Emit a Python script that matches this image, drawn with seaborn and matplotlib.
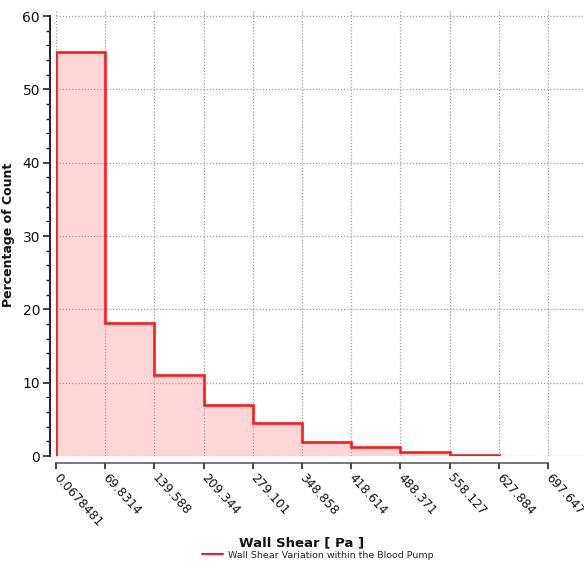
import numpy as np
import pandas as pd
import matplotlib
matplotlib.use("Agg")
import matplotlib.pyplot as plt
from matplotlib.lines import Line2D
from matplotlib.ticker import MultipleLocator
import seaborn as sns

# Histogram bin edges (Pa) and percentage of count in each bin
edges = [0.0678481, 69.8314, 139.588, 209.344, 279.101, 348.858,
         418.614, 488.371, 558.127, 627.884, 697.647]
edge_labels = ["0.0678481", "69.8314", "139.588", "209.344", "279.101",
               "348.858", "418.614", "488.371", "558.127", "627.884", "697.647"]
pct = [55.1, 18.1, 11.1, 6.9, 4.5, 1.96, 1.19, 0.5, 0.18]

series_name = "Wall Shear Variation within the Blood Pump"
x_title = "Wall Shear [ Pa ]"
y_title = "Percentage of Count"

sns.set_theme(style="white")
plt.rcParams["font.family"] = ["DejaVu Sans"]

W, H = 584, 562
fig = plt.figure(figsize=(W / 100, H / 100), dpi=100)
ax = fig.add_axes([56 / W, 1 - 456 / H, (584 - 56) / W, (456 - 10) / H])

bin_edges = list(edges[:len(pct) + 1])
be = np.array(bin_edges)
df = pd.DataFrame({
    "shear": (be[:-1] + be[1:]) / 2,
    "pct": pct,
})

sns.histplot(data=df, x="shear", weights="pct", bins=bin_edges, element="step",
             fill=True, color="#ffd6d6", alpha=1, linewidth=0, ax=ax, zorder=1)
ax.stairs(pct, be, baseline=0, fill=False, color="#ff1a1a",
          linewidth=1.9, zorder=3)

# axis ranges: the plotting area runs past the last tick on the right
px_per_bin = (548 - 56) / 10
step = (edges[-1] - edges[0]) / 10
ax.set_xlim(edges[0], edges[0] + (584 - 56) / px_per_bin * step)
ax.set_ylim(0, 60 + 6 / ((456 - 16) / 60))

ax.set_xticks(edges)
ax.set_xticklabels(edge_labels)
ax.set_yticks(range(0, 61, 10))
ax.yaxis.set_minor_locator(MultipleLocator(2))

ax.grid(True, which="major", color="#a0a0a0", linestyle=(0, (1, 1.5)),
        linewidth=0.9)
ax.set_axisbelow(False)

for s in ("top", "right"):
    ax.spines[s].set_visible(False)
ax.spines["left"].set_position(("outward", 4.5))
ax.spines["bottom"].set_position(("outward", 5))
ax.spines["left"].set_bounds(0, 60)
ax.spines["bottom"].set_bounds(edges[0], edges[-1])
ax.spines["left"].set_color("#222222")
ax.spines["bottom"].set_color("#777777")
ax.spines["left"].set_linewidth(1.4)
ax.spines["bottom"].set_linewidth(1.4)

ax.tick_params(axis="y", which="major", direction="out", length=5, width=1.2,
               color="#222222", left=True, pad=2, labelsize=10,
               labelcolor="#111111")
ax.tick_params(axis="y", which="minor", direction="out", length=3, width=1,
               color="#222222", left=True)
ax.tick_params(axis="x", which="major", direction="out", length=4, width=1.4,
               color="#444444", bottom=True, pad=5, labelsize=8.8,
               labelcolor="#111111")

# slanted edge labels hanging from each tick
for lab in ax.get_xticklabels():
    lab.set_rotation(-48)
    lab.set_rotation_mode("anchor")
    lab.set_ha("left")
    lab.set_va("center")

ax.set_xlabel(x_title, fontsize=9.5, fontweight="bold", color="#111111")
ax.set_ylabel(y_title, fontsize=9, fontweight="bold", color="#111111")
ax.xaxis.set_label_coords((302 - 56) / (584 - 56), -(536 - 456) / 446)
ax.yaxis.set_label_coords(-(56 - 15) / 528, (456 - 235) / 446)

handle = Line2D([], [], color="#ff1a1a", linewidth=1.5)
fig.legend([handle], [series_name], loc="center", frameon=False,
           fontsize=6.8, bbox_to_anchor=(318 / W, 1 - 555 / H),
           handlelength=2.2, handletextpad=0.6)

fig.savefig("out.png", dpi=100)
